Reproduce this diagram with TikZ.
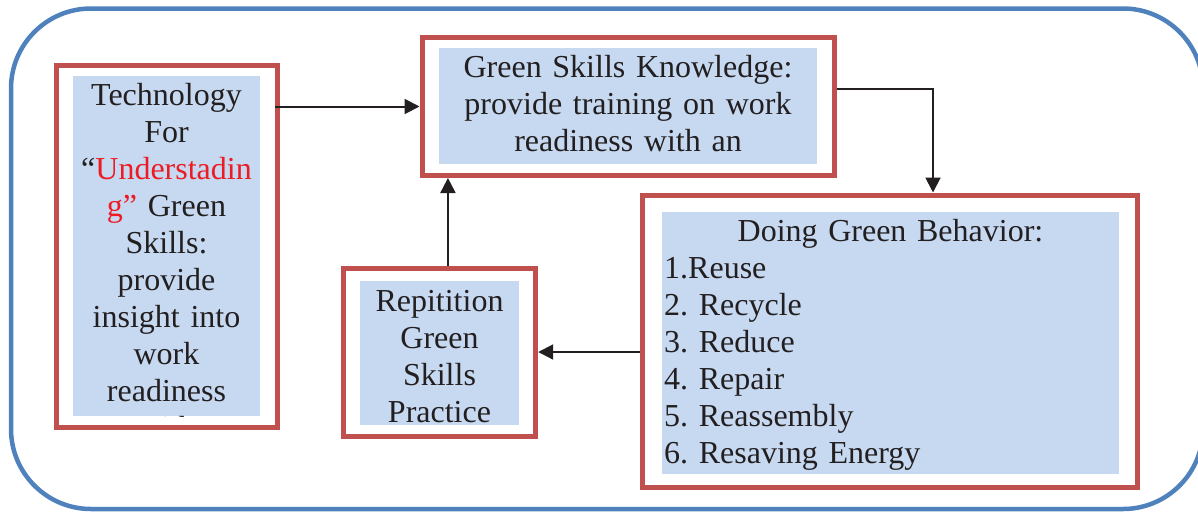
\documentclass[tikz,border=0pt]{standalone}
\usepackage{fontspec}
\setmainfont{Liberation Serif}
\usetikzlibrary{arrows.meta}
\definecolor{outerblue}{RGB}{79,129,189}
\definecolor{framered}{RGB}{192,80,77}
\definecolor{fillblue}{RGB}{198,217,241}
\definecolor{inkc}{RGB}{35,31,32}
\definecolor{hilite}{RGB}{237,28,36}
\newcommand{\bigfont}{\fontsize{32}{37}\selectfont\frenchspacing}
\begin{document}
\begin{tikzpicture}[x=1pt,y=-1pt,
  frame/.style={draw=framered, line width=5pt, rectangle, inner sep=0pt, outer sep=2.5pt, fill=white},
  panel/.style={fill=fillblue, rectangle, inner sep=0pt, outer sep=0pt},
  label/.style={text=inkc, font=\bigfont, inner sep=0pt, align=center, anchor=north},
  arr/.style={draw=inkc, line width=2pt, -{Triangle[length=15pt,width=15pt]}}]
\useasboundingbox (0,0) rectangle (1198,512);
\draw[outerblue, line width=4.5pt, rounded corners=80pt] (11,8.5) rectangle (1203,509);

% left box
\node[frame, minimum width=221pt, minimum height=362.5pt] (L) at (167,246.25) {};
\node[panel, minimum width=187pt, minimum height=340pt] (Lp) at (166.5,246) {};
\begin{scope}
\clip (Lp.south west) rectangle (Lp.north east);
\node[label, text width=187pt] (Lt) at (166.5,79.1) {\strut Technology\\For\\“\textcolor{hilite}{Understadin}\\\textcolor{hilite}{g”} Green\\Skills:\\provide\\insight into\\work\\readiness\\with};
\end{scope}

% top box
\node[frame, minimum width=412pt, minimum height=138pt] (T) at (628,106.5) {};
\node[panel, minimum width=378pt, minimum height=116pt] (Tp) at (628,106) {};
\node[label, text width=378pt] (Tt) at (628,51.1) {\strut Green Skills Knowledge:\\provide training on work\\readiness with an};

% doing box
\node[frame, minimum width=494.5pt, minimum height=292pt] (D) at (889.75,341) {};
\node[panel, minimum width=457pt, minimum height=262pt] (Dp) at (890.5,343) {};
\node[label, text width=457pt] (Dh) at (890.5,215.8) {\strut Doing Green Behavior:};
\node[label, align=left, anchor=north west, text width=450pt] (Dl) at (664,252.1) {\strut 1.Reuse\\2. Recycle\\3. Reduce\\4. Repair\\5. Reassembly\\6. Resaving Energy};

% repetition box
\node[frame, minimum width=192.7pt, minimum height=168pt] (R) at (439.35,352) {};
\node[panel, minimum width=159pt, minimum height=144pt] (Rp) at (439.5,353) {};
\node[label, text width=159pt] (Rt) at (439.5,285.6) {\strut Repitition\\Green\\Skills\\Practice};

% connectors
\coordinate (lstart) at ([xshift=-5pt]L.east |- T.west);
\draw[arr] (lstart) -- (T.west);
\coordinate (bend) at (933,89);
\draw[arr] ([yshift=17.5pt]T.east) -- (bend) -- (bend |- D.north);
\draw[arr] (D.west |- R.east) -- (R.east);
\coordinate (rup) at ([xshift=8.6pt]R.north);
\draw[arr] (rup) -- (rup |- T.south);
\end{tikzpicture}
\end{document}
